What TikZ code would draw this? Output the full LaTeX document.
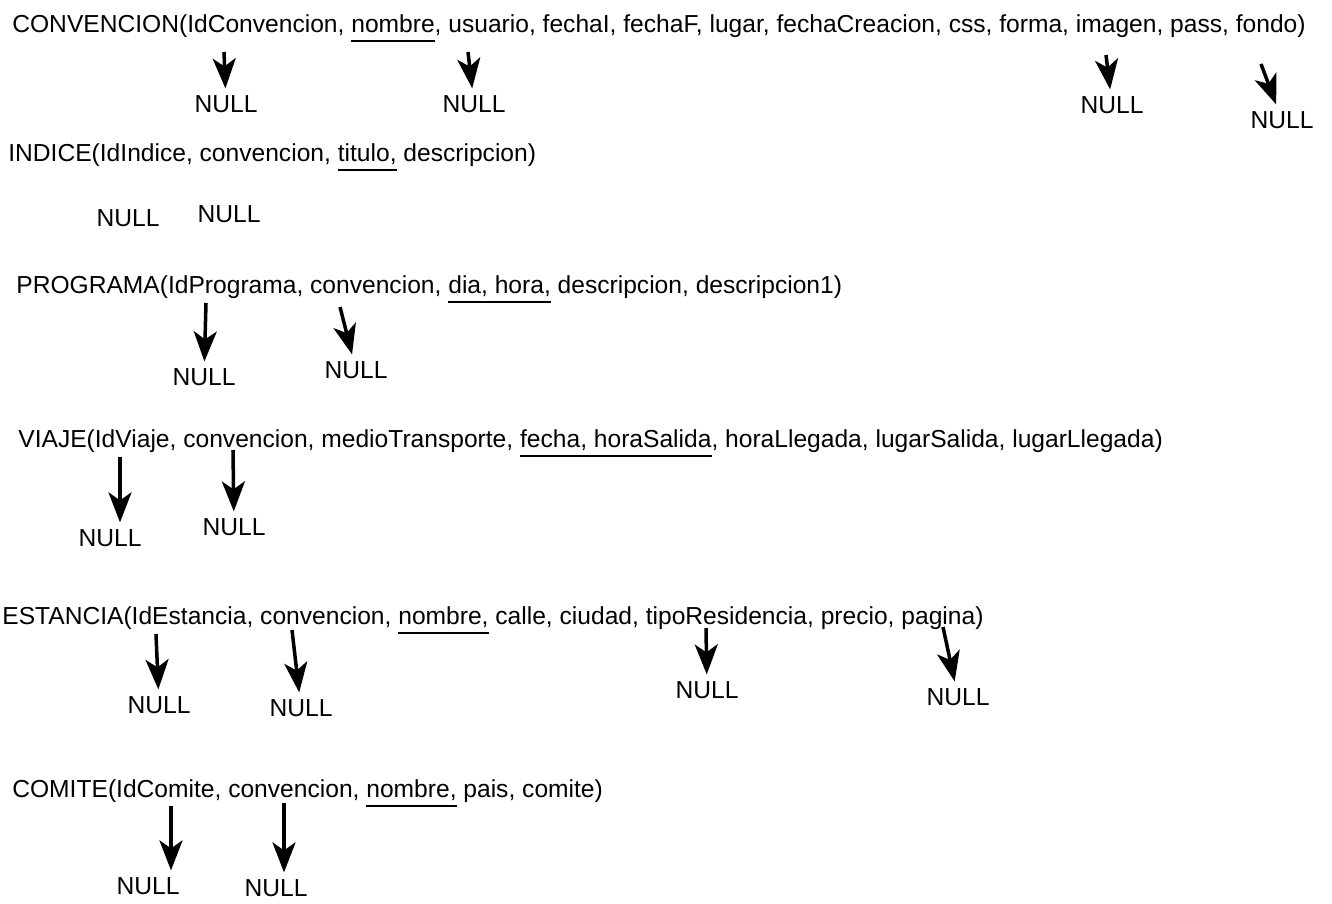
\documentclass[tikz,border=0pt]{standalone}
\usepackage{fontspec}
\setmainfont{Liberation Sans}
\usepackage{tikz}
\usetikzlibrary{positioning,arrows.meta}
\newcommand{\clave}[1]{\setbox0\hbox{#1}\rlap{\rule[-5.8pt]{\wd0}{1.5pt}}\box0\relax}

\begin{document}
\begin{tikzpicture}[x=0.02cm,y=-0.02cm,>={Stealth[length=6mm,width=4.6mm,inset=1.6mm]},
  rel/.style={anchor=base west,inner sep=0pt,font=\fontsize{14}{16}\selectfont},
  nulo/.style={inner sep=1pt,outer sep=3pt,font=\fontsize{14}{16}\selectfont},
  flecha/.style={->,line width=2pt}]
\useasboundingbox (0,0) rectangle (1332,903);
\node (convencion) [rel] at (12,32) {CONVENCION(IdConvencion, \clave{nombre}, usuario, fechaI, fechaF, lugar, fechaCreacion, css, forma, imagen, pass, fondo)};
\node (indice) [rel] at (8,161) {INDICE(IdIndice, convencion, \clave{titulo,} descripcion)};
\node (programa) [rel] at (16,293) {PROGRAMA(IdPrograma, convencion, \clave{dia, hora,} descripcion, descripcion1)};
\node (viaje) [rel] at (18,447) {VIAJE(IdViaje, convencion, medioTransporte, \clave{fecha, horaSalida}, horaLlegada, lugarSalida, lugarLlegada)};
\node (estancia) [rel] at (2,624) {ESTANCIA(IdEstancia, convencion, \clave{nombre,} calle, ciudad, tipoResidencia, precio, pagina)};
\node (comite) [rel] at (12,797) {COMITE(IdComite, convencion, \clave{nombre,} pais, comite)};

\node (n1) [nulo] at (226,104) {NULL};
\node (n2) [nulo] at (474,104) {NULL};
\node (n3) [nulo] at (1112,105) {NULL};
\node (n4) [nulo] at (1282,120) {NULL};
\node (n5) [nulo] at (128,218) {NULL};
\node (n6) [nulo] at (229,214) {NULL};
\node (n7) [nulo] at (204,377) {NULL};
\node (n8) [nulo] at (356,370) {NULL};
\node (n9) [nulo] at (110,538) {NULL};
\node (n10) [nulo] at (234,527) {NULL};
\node (n11) [nulo] at (159,705) {NULL};
\node (n12) [nulo] at (301,708) {NULL};
\node (n13) [nulo] at (707,690) {NULL};
\node (n14) [nulo] at (958,697) {NULL};
\node (n15) [nulo] at (148,886) {NULL};
\node (n16) [nulo] at (276,888) {NULL};

\coordinate (a1) at (224,52);
\coordinate (a2) at (468,52);
\coordinate (a3) at (1106,55);
\coordinate (a4) at (1261,64);
\coordinate (a7) at (206,303);
\coordinate (a8) at (340,307);
\coordinate (a9) at (120,457);
\coordinate (a10) at (233,450);
\coordinate (a11) at (156,634);
\coordinate (a12) at (292,630);
\coordinate (a13) at (706,628);
\coordinate (a14) at (943,627);
\coordinate (a15) at (171,806);
\coordinate (a16) at (284,803);

\draw[flecha] (a1) -- (n1);
\draw[flecha] (a2) -- (n2);
\draw[flecha] (a3) -- (n3);
\draw[flecha] (a4) -- (n4);
\draw[flecha] (a7) -- (n7);
\draw[flecha] (a8) -- (n8);
\draw[flecha] (a9) -- (a9 |- n9.north);
\draw[flecha] (a10) -- (n10);
\draw[flecha] (a11) -- (n11);
\draw[flecha] (a12) -- (n12);
\draw[flecha] (a13) -- (n13);
\draw[flecha] (a14) -- (n14);
\draw[flecha] (a15) -- (a15 |- n15.north);
\draw[flecha] (a16) -- (a16 |- n16.north);
\end{tikzpicture}
\end{document}
